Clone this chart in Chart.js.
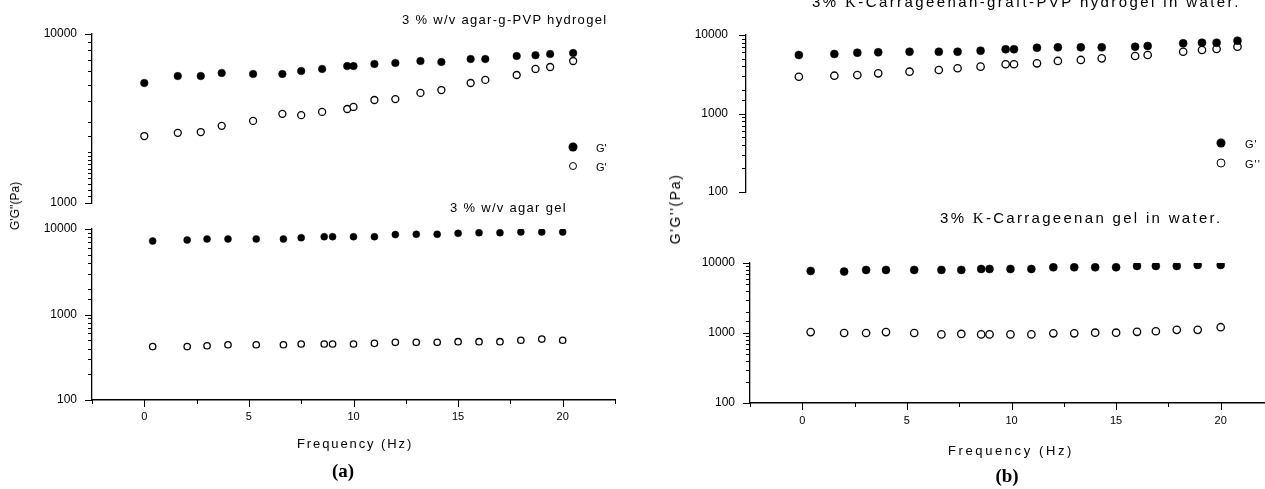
<!DOCTYPE html>
<html>
<head>
<meta charset="utf-8">
<script src="https://cdn.jsdelivr.net/npm/chart.js@4/dist/chart.umd.min.js"></script>
<style>
  html, body { margin: 0; padding: 0; background: #fff; }
  body { position: relative; width: 1265px; height: 489px; overflow: hidden; font-family: "Liberation Sans", Arial, sans-serif; color: #000; }
  canvas { position: absolute; }
  .txt { position: absolute; white-space: nowrap; line-height: 1; transform: translateY(-50%); }
  .serif { font-family: "Liberation Serif", "Times New Roman", serif; }
  .ytitle { position: absolute; white-space: nowrap; line-height: 1; transform: translate(-50%, -50%) rotate(-90deg); }
  .tag { position: absolute; font-family: "Liberation Serif", serif; font-weight: bold; font-size: 19px; transform: translate(-50%, -50%); }
  .dot { position: absolute; border-radius: 50%; box-sizing: border-box; transform: translate(-50%, -50%); }
  .dot.fill { background: #000; }
  .dot.open { background: #fff; border: 1.4px solid #000; }
</style>
</head>
<body>
<canvas id="a-top" width="640" height="215" style="left:0;top:0"></canvas>
<canvas id="a-bot" width="640" height="274" style="left:0;top:215px"></canvas>
<canvas id="b-top" width="640" height="205" style="left:640px;top:0"></canvas>
<canvas id="b-bot" width="640" height="284" style="left:640px;top:205px"></canvas>

<!-- panel (a) -->
<div class="txt" style="left:402px;top:19px;font-size:13px;letter-spacing:1.3px">3 % w/v agar-g-PVP hydrogel</div>
<div class="txt" style="left:450px;top:207px;font-size:13px;letter-spacing:1.3px">3 % w/v agar gel</div>
<span class="dot fill" style="left:573px;top:147px;width:9px;height:9px"></span>
<span class="dot open" style="left:573px;top:166px;width:8px;height:8px"></span>
<div class="txt" style="left:596px;top:148px;font-size:11px">G'</div>
<div class="txt" style="left:596px;top:167px;font-size:11px">G'</div>
<div class="ytitle" style="left:15px;top:206px;font-size:12px">G'G''(Pa)</div>
<div class="txt" style="left:297px;top:443px;font-size:13px;letter-spacing:1.9px">Frequency (Hz)</div>
<div class="tag" style="left:343px;top:471px">(a)</div>

<!-- panel (b) -->
<div class="txt" style="left:812px;top:2px;font-size:15px;letter-spacing:2.4px">3% <span class="serif">K</span>-Carrageenan-graft-PVP hydrogel in water.</div>
<div class="txt" style="left:940px;top:218px;font-size:15px;letter-spacing:2.3px">3% <span class="serif">K</span>-Carrageenan gel in water.</div>
<span class="dot fill" style="left:1221px;top:143px;width:9px;height:9px"></span>
<span class="dot open" style="left:1221px;top:163px;width:9px;height:9px"></span>
<div class="txt" style="left:1245px;top:144px;font-size:11px;letter-spacing:1px">G'</div>
<div class="txt" style="left:1245px;top:164px;font-size:11px;letter-spacing:1px">G''</div>
<div class="ytitle" style="left:675px;top:209px;font-size:14px;letter-spacing:1.6px">G'G''(Pa)</div>
<div class="txt" style="left:948px;top:450px;font-size:13px;letter-spacing:2.6px">Frequency (Hz)</div>
<div class="tag" style="left:1007px;top:476px">(b)</div>

<script>
// (a) top: 3 % w/v agar-g-PVP hydrogel
const freqA1 = [0, 1.6, 2.7, 3.7, 5.2, 6.6, 7.5, 8.5, 9.7, 10, 11, 12, 13.2, 14.2, 15.6, 16.3, 17.8, 18.7, 19.4, 20.5];
const storageA1 = [5130, 5640, 5640, 5880, 5800, 5800, 6040, 6210, 6460, 6460, 6650, 6740, 6920, 6830, 7110, 7110, 7410, 7490, 7610, 7720];
const lossA1 = [2490, 2600, 2630, 2860, 3060, 3370, 3310, 3460, 3600, 3700, 4070, 4120, 4480, 4660, 5130, 5350, 5720, 6210, 6380, 6920];

// (a) bottom: 3 % w/v agar gel
const freqA2 = [0.4, 2.05, 3, 4, 5.35, 6.65, 7.5, 8.6, 9, 10, 11, 12, 13, 14, 15, 16, 17, 18, 19, 20];
const storageA2 = [7240, 7430, 7640, 7640, 7640, 7640, 7910, 8130, 8130, 8130, 8130, 8600, 8670, 8670, 8900, 9050, 9050, 9220, 9220, 9220];
const lossA2 = [421, 421, 431, 443, 443, 443, 452, 452, 452, 452, 460, 473, 473, 473, 481, 481, 481, 500, 516, 500];

// (b) top: 3% K-Carrageenan-graft-PVP hydrogel in water
const freqB1 = [-0.2, 1.5, 2.6, 3.6, 5.1, 6.5, 7.4, 8.5, 9.7, 10.1, 11.2, 12.2, 13.3, 14.3, 15.9, 16.5, 18.2, 19.1, 19.8, 20.8];
const storageB1 = [5560, 5730, 5950, 6020, 6120, 6120, 6130, 6310, 6580, 6580, 6880, 6960, 6960, 6960, 7100, 7240, 7830, 7980, 7980, 8460];
const lossB1 = [2940, 3030, 3090, 3250, 3410, 3580, 3770, 3950, 4240, 4240, 4360, 4670, 4810, 5040, 5400, 5560, 6120, 6440, 6640, 7100];

// (b) bottom: 3% K-Carrageenan gel in water
const freqB2 = [0.4, 2, 3.05, 4, 5.35, 6.65, 7.6, 8.55, 8.95, 9.95, 10.95, 12, 13, 14, 15, 16, 16.9, 17.9, 18.9, 20];
const storageB2 = [7710, 7540, 7960, 7960, 7960, 7960, 7960, 8220, 8220, 8220, 8220, 8680, 8680, 8680, 8680, 9070, 9070, 9070, 9370, 9370];
const lossB2 = [1030, 1000, 1000, 1030, 1000, 955, 970, 955, 955, 955, 955, 990, 990, 1010, 1010, 1040, 1060, 1110, 1110, 1210];

// tick labels
const freqLabels = [0, 5, 10, 15, 20];
const yLabelsTop = [1000, 10000];
const yLabelsWide = [100, 1000, 10000];

function pts(xs, ys) {
  return xs.map((x, i) => ({ x, y: ys[i] }));
}

function hasLabel(list, v) {
  return list.some(l => Math.abs(l - v) < 1e-6 * Math.abs(l) + 1e-9);
}

// axis tick marks: longer on labelled ticks, short on the rest
const tickMarks = {
  id: 'tickMarks',
  afterDraw(chart, args, opts) {
    const ctx = chart.ctx;
    const ys = chart.scales.y;
    const xs = chart.scales.x;
    ctx.save();
    ctx.strokeStyle = '#000';
    ctx.lineWidth = 1;
    ys.ticks.forEach(t => {
      const py = Math.round(ys.getPixelForValue(t.value)) + 0.5;
      const len = hasLabel(opts.yLabels, t.value) ? 7 : 4;
      ctx.beginPath();
      ctx.moveTo(ys.right - len, py);
      ctx.lineTo(ys.right, py);
      ctx.stroke();
    });
    if (xs.options.display) {
      xs.ticks.forEach(t => {
        const px = Math.round(xs.getPixelForValue(t.value)) + 0.5;
        const len = hasLabel(freqLabels, t.value) ? 7 : 4;
        ctx.beginPath();
        ctx.moveTo(px, xs.top);
        ctx.lineTo(px, xs.top + len);
        ctx.stroke();
      });
    }
    ctx.restore();
  }
};

function makePlot(id, c) {
  return new Chart(document.getElementById(id), {
    type: 'scatter',
    data: {
      datasets: [
        { label: "G'", data: pts(c.freq, c.storage), pointStyle: 'circle', pointRadius: c.r,
          backgroundColor: '#000', borderColor: '#000', borderWidth: 0.5 },
        { label: "G''", data: pts(c.freq, c.loss), pointStyle: 'circle', pointRadius: c.r - 0.3,
          backgroundColor: '#fff', borderColor: '#000', borderWidth: 1.3 }
      ]
    },
    options: {
      responsive: false,
      animation: false,
      devicePixelRatio: 1,
      layout: { padding: c.pad },
      plugins: {
        legend: { display: false },
        tooltip: { enabled: false },
        tickMarks: { yLabels: c.yLabels }
      },
      scales: {
        x: {
          type: 'linear',
          display: c.showX,
          min: c.xMin, max: 22.5,
          afterFit: s => { s.height = c.xHeight || 0; },
          // tickLength only offsets the labels here, marks come from tickMarks
          grid: { display: false, drawTicks: true, tickLength: c.xGap || 10 },
          border: { display: true, color: '#000', width: 1.6 },
          ticks: {
            stepSize: 2.5, autoSkip: false, maxRotation: 0, padding: 0,
            color: '#000', font: { family: 'Liberation Sans', size: 11 },
            callback: v => hasLabel(freqLabels, v) ? String(v) : ''
          }
        },
        y: {
          type: 'logarithmic',
          min: c.yMin, max: 10000,
          afterFit: s => { s.width = c.yWidth; },
          grid: { display: false, drawTicks: true, tickLength: c.yGap },
          border: { display: true, color: '#000', width: 1.3 },
          ticks: {
            autoSkip: false, padding: 0, color: '#000',
            font: { family: 'Liberation Sans', size: c.yFont },
            callback: v => hasLabel(c.yLabels, v) ? String(v) : ''
          }
        }
      }
    },
    plugins: [tickMarks]
  });
}

makePlot('a-top', {
  freq: freqA1, storage: storageA1, loss: lossA1, r: 3.8,
  yMin: 1000, yLabels: yLabelsTop, yWidth: 92, yGap: 15, yFont: 12,
  showX: false, xMin: -2.5,
  pad: { top: 34, right: 25, bottom: 12, left: 0 }
});

makePlot('a-bot', {
  freq: freqA2, storage: storageA2, loss: lossA2, r: 3.5,
  yMin: 100, yLabels: yLabelsWide, yWidth: 92, yGap: 15, yFont: 12,
  showX: true, xMin: -2.5, xHeight: 89, xGap: 10,
  pad: { top: 14, right: 25, bottom: 0, left: 0 }
});

makePlot('b-top', {
  freq: freqB1, storage: storageB1, loss: lossB1, r: 4,
  yMin: 100, yLabels: yLabelsWide, yWidth: 106, yGap: 18, yFont: 12,
  showX: false, xMin: -2.73,
  pad: { top: 35, right: 7, bottom: 13, left: 0 }
});

makePlot('b-bot', {
  freq: freqB2, storage: storageB2, loss: lossB2, r: 4,
  yMin: 100, yLabels: yLabelsWide, yWidth: 110, yGap: 15, yFont: 12,
  showX: true, xMin: -2.5, xHeight: 86, xGap: 11,
  pad: { top: 58, right: 7, bottom: 0, left: 0 }
});
</script>
</body>
</html>
